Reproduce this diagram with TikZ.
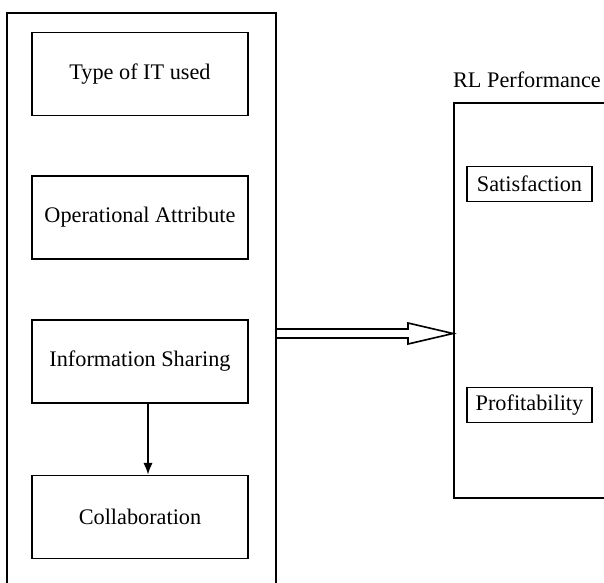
\documentclass[tikz,border=0pt]{standalone}
\usepackage{fontspec}
\setmainfont{Liberation Serif}
\usetikzlibrary{arrows.meta}
\begin{document}
\begin{tikzpicture}[x=0.03cm,y=-0.03cm]
\tikzset{
    caja/.style={draw, line width=1.3pt, minimum width=6.48cm, minimum height=2.5cm, inner sep=0pt, align=center, font=\fontsize{19}{22}\selectfont},
    cajita/.style={draw, line width=1.3pt, minimum width=3.75cm, minimum height=1.05cm, inner sep=0pt, font=\fontsize{19}{22}\selectfont},
    marco/.style={draw, line width=1.6pt}
}
\useasboundingbox (0,0) rectangle (604,583);
\clip (0,0) rectangle (604,583);
% left block
\draw[marco] (7,13) rectangle (276,620);
\node[caja] (tipo) at (140,74) {Type of IT used};
\node[caja] (oper) at (140,217.5) {Operational Attribute};
\node[caja] (info) at (140,361.5) {Information Sharing};
\node[caja] (colab) at (140,517) {Collaboration};
\draw[line width=1.4pt, -{Latex[length=10pt, width=8pt]}] ([xshift=0.24cm]info.south) -- ([xshift=0.24cm]colab.north);
% right block
\node[font=\fontsize{19}{22}\selectfont] (rl) at (527,80) {RL Performance};
\draw[marco] (454,103) rectangle (640,498);
\node[cajita] (satis) at (529.5,184) {Satisfaction};
\node[cajita] (prof) at (529.5,405) {Profitability};
% double arrow
\coordinate (desde) at (276,333.5);
\coordinate (hasta) at (453,333.5);
\draw[line width=1.4pt, line join=miter] (desde) ++(0,-4.5) -- ++(132,0) -- ++(0,-6) -- (hasta)
      -- ++(-45,10.5) -- ++(0,-6) -- ++(-132,0);
\end{tikzpicture}
\end{document}
